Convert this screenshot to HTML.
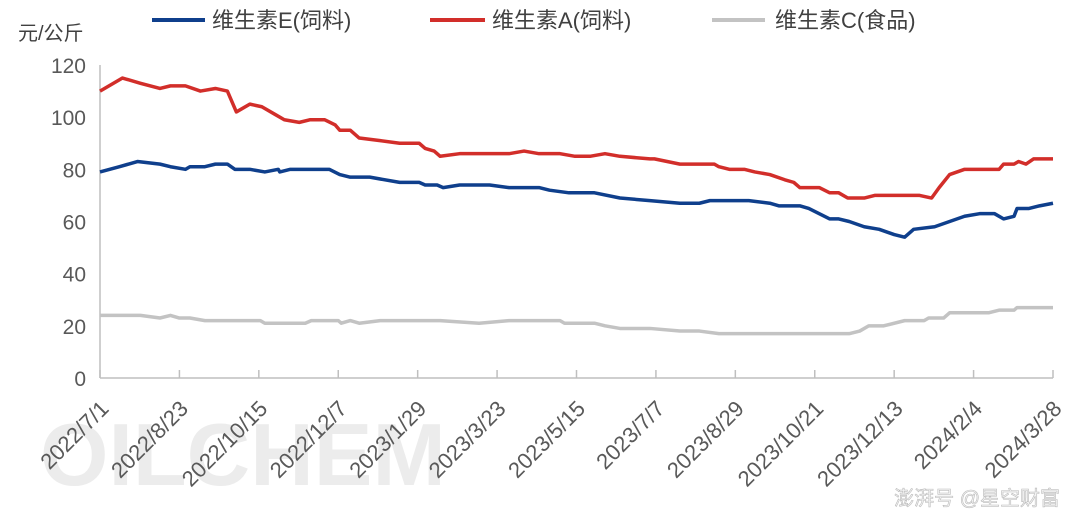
<!DOCTYPE html>
<html><head><meta charset="utf-8"><style>
body{margin:0;background:#fff;}
svg{display:block;font-family:"Liberation Sans","Noto Sans CJK SC",sans-serif;}
</style></head><body>
<svg id="chart" width="1081" height="519" viewBox="0 0 1081 519">
<text x="40" y="485" font-size="88" font-weight="bold" fill="#ececec" style="font-family:'Liberation Sans',sans-serif">OILCHEM</text>
<g id="grid"></g>
<g id="series"></g>
<g id="legend">
<line x1="152" y1="20" x2="205" y2="20" stroke="#0f3f8c" stroke-width="4"/>
<text x="212" y="28" font-size="22" fill="#404040">维生素E(饲料)</text>
<line x1="430" y1="20" x2="485" y2="20" stroke="#d22e2a" stroke-width="4"/>
<text x="492" y="28" font-size="22" fill="#404040">维生素A(饲料)</text>
<line x1="712" y1="20" x2="765" y2="20" stroke="#c3c3c3" stroke-width="4"/>
<text x="775" y="28" font-size="22" fill="#404040">维生素C(食品)</text>
</g>
<text x="18" y="40" font-size="20" fill="#404040">元/公斤</text>
<text x="1060" y="505" text-anchor="end" font-size="20" fill="#f4f4f4" stroke="#bbb" stroke-width="0.6">澎湃号 @星空财富</text>
</svg>
<script>
const yTicks=[0,20,40,60,80,100,120];
const xLabels=["2022/7/1","2022/8/23","2022/10/15","2022/12/7","2023/1/29","2023/3/23","2023/5/15","2023/7/7","2023/8/29","2023/10/21","2023/12/13","2024/2/4","2024/3/28"];
const labelStepDays=53;
const eDays=[0,13,25,40,47,57,60,70,77,85,90,100,110,119,120,127,133,153,160,167,180,200,213,217,225,229,240,260,273,293,300,313,330,347,367,387,400,407,433,447,453,467,473,480,487,493,500,510,520,530,537,543,557,567,577,587,597,603,610,612,620,627,636];
const eVals=[79,81,83,82,81,80,81,81,82,82,80,80,79,80,79,80,80,80,78,77,77,75,75,74,74,73,74,74,73,73,72,71,71,69,68,67,67,68,68,67,66,66,65,63,61,61,60,58,57,55,54,57,58,60,62,63,63,61,62,65,65,66,67];
const aDays=[0,15,27,40,47,57,67,77,85,91,100,108,117,123,133,140,150,157,160,167,173,187,200,213,217,223,227,240,273,283,293,307,317,327,337,347,367,370,387,410,413,420,430,437,447,457,463,467,480,487,493,499,510,517,547,555,560,567,577,600,603,610,613,618,623,636];
const aVals=[110,115,113,111,112,112,110,111,110,102,105,104,101,99,98,99,99,97,95,95,92,91,90,90,88,87,85,86,86,87,86,86,85,85,86,85,84,84,82,82,81,80,80,79,78,76,75,73,73,71,71,69,69,70,70,69,73,78,80,80,82,82,83,82,84,84];
const cDays=[0,27,40,47,53,60,70,107,110,137,141,159,161,167,173,187,227,253,273,307,310,330,337,347,367,387,400,413,500,507,513,523,537,550,553,563,567,593,600,610,612,636];
const cVals=[24,24,23,24,23,23,22,22,21,21,22,22,21,22,21,22,22,21,22,22,21,21,20,19,19,18,18,17,17,18,20,20,22,22,23,23,25,25,26,26,27,27];

const X0=100,X1=1053,Y0=378,Y1=65,totalDays=636,yMax=120;
const xs=d=>X0+(X1-X0)*d/totalDays;
const ys=v=>Y0-(Y0-Y1)*v/yMax;
const NS="http://www.w3.org/2000/svg";
const g=document.getElementById('grid'), s=document.getElementById('series');
function mk(tag,attrs,parent){const e=document.createElementNS(NS,tag);for(const k in attrs)e.setAttribute(k,attrs[k]);parent.appendChild(e);return e;}
const yAxis=mk('line',{x1:X0,y1:Y1,x2:X0,y2:Y0,stroke:'#bfbfbf','stroke-width':1.5},g);


const xAxis=mk('line',{x1:X0,y1:Y0,x2:X1,y2:Y0,stroke:'#bfbfbf','stroke-width':1.5},g);


yTicks.forEach(v=>{
  const t=mk('text',{x:86,y:ys(v)+8,'text-anchor':'end','font-size':21,fill:'#595959'},g);
  t.textContent=v;
  
  
});
xLabels.forEach((l,i)=>{
  const x=xs(i*labelStepDays);
  const tk=mk('line',{x1:x,y1:Y0,x2:x,y2:Y0-8,stroke:'#bfbfbf','stroke-width':1.5},g);
  
  
  const ax=x+10, ay=Y0+32;
  const t=mk('text',{x:ax,y:ay,'text-anchor':'end','font-size':22,fill:'#595959',transform:`rotate(-45 ${ax} ${ay})`},g);
  t.textContent=l;
  
  
});
function line(days,vals,color,name){
  const p=mk('polyline',{points:days.map((d,i)=>xs(d)+','+ys(vals[i])).join(' '),fill:'none',stroke:color,'stroke-width':3.5,'stroke-linejoin':'round'},s);
  
  
}
line(cDays,cVals,'#c3c3c3','series-vitamin-c');
line(eDays,eVals,'#0f3f8c','series-vitamin-e');
line(aDays,aVals,'#d22e2a','series-vitamin-a');
</script>
</body></html>
